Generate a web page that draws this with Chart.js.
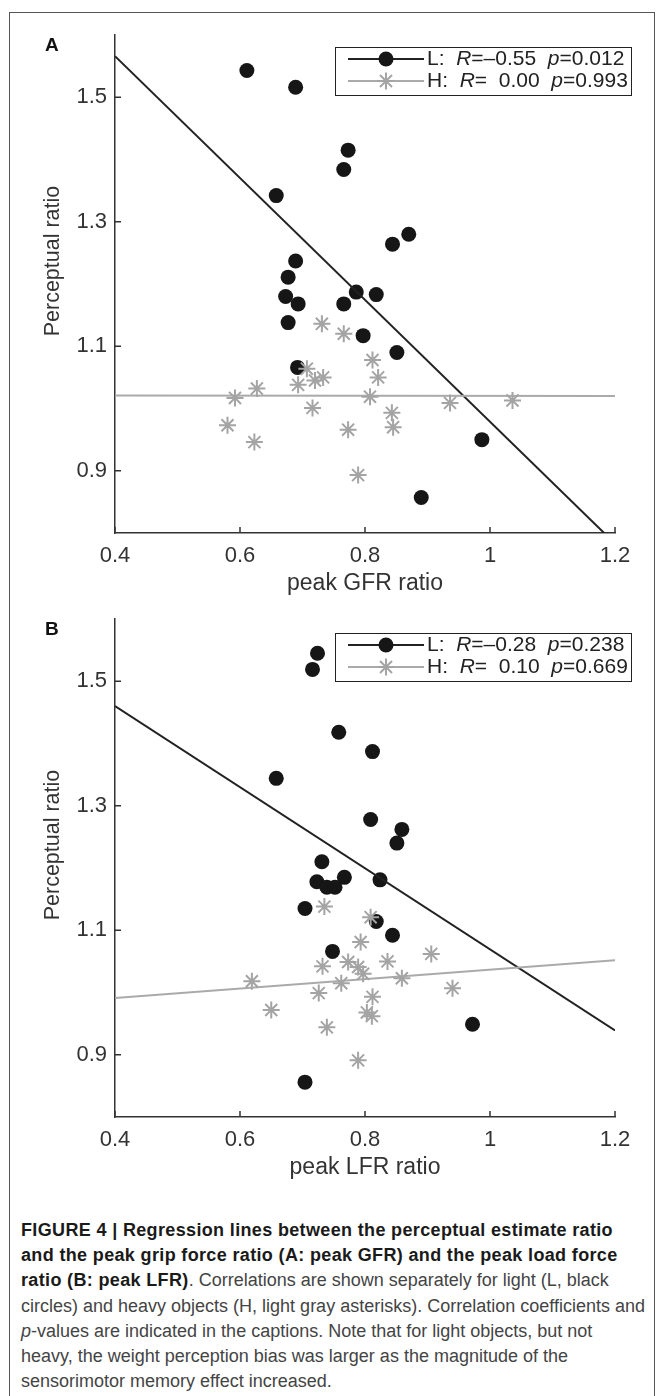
<!DOCTYPE html>
<html>
<head>
<meta charset="utf-8">
<script src="https://cdn.jsdelivr.net/npm/chart.js@4.4.1/dist/chart.umd.min.js"></script>
<style>
  html, body { margin: 0; padding: 0; background: #fff; }
  body { width: 662px; height: 1396px; position: relative; overflow: hidden;
         font-family: "Liberation Sans", Arial, sans-serif; }
  .frame { position: absolute; left: 9px; top: 12px; width: 646px; height: 1400px;
           border: 1px solid #555; box-sizing: border-box; }
  canvas { position: absolute; left: 0; }
  .panel { position: absolute; left: 45px; font: bold 19px "Liberation Sans", Arial, sans-serif; color: #111; }
  .ytitle { position: absolute; left: 52px; width: 0; height: 0; }
  .ytitle span { position: absolute; transform: translate(-50%, -50%) rotate(-90deg);
                 white-space: nowrap; font-size: 21.5px; color: #333; }
  .legend { position: absolute; left: 335px; width: 297px; height: 49px; border: 1.5px solid #222;
            box-sizing: border-box; background: #fff; font-size: 21px; color: #222; }
  .row { position: absolute; left: 0; height: 20px; width: 100%; }
  .row svg { position: absolute; left: 12px; top: 0; }
  .row .txt { position: absolute; left: 91px; top: -3px; white-space: pre; }
  .row i { font-style: italic; }
  .caption { position: absolute; left: 21px; top: 1218px; font-size: 18px; line-height: 25.2px;
             color: #444; white-space: nowrap; font-family: "Liberation Sans Narrow", "Liberation Sans", sans-serif; }
  .caption b { color: #1a1a1a; letter-spacing: 0.35px; }
</style>
</head>
<body>
<div class="frame"></div>

<canvas id="chartA" width="662" height="600" style="top:0"></canvas>
<canvas id="chartB" width="662" height="600" style="top:584px"></canvas>

<div class="panel" style="top:34px">A</div>
<div class="panel" style="top:618px">B</div>
<div class="ytitle" style="top:261px"><span>Perceptual ratio</span></div>
<div class="ytitle" style="top:845px"><span>Perceptual ratio</span></div>

<div class="legend" id="legA" style="top:47px"></div>
<div class="legend" id="legB" style="top:633px"></div>

<div class="caption">
<b>FIGURE 4 | Regression lines between the perceptual estimate ratio</b><br>
<b>and the peak grip force ratio (A: peak GFR) and the peak load force</b><br>
<b>ratio (B: peak LFR)</b>. Correlations are shown separately for light (L, black<br>
circles) and heavy objects (H, light gray asterisks). Correlation coefficients and<br>
<i>p</i>-values are indicated in the captions. Note that for light objects, but not<br>
heavy, the weight perception bias was larger as the magnitude of the<br>
sensorimotor memory effect increased.
</div>

<script>
// tick values / labels
const xTickVals = [0.4, 0.6, 0.8, 1, 1.2];
const xTickLabels = ['0.4', '0.6', '0.8', '1', '1.2'];
const yTickVals = [0.9, 1.1, 1.3, 1.5];
const yTickLabels = ['0.9', '1.1', '1.3', '1.5'];

// panel A: peak GFR ratio
const A_L_x = [0.611, 0.689, 0.773, 0.766, 0.658, 0.844, 0.870, 0.689, 0.677, 0.673, 0.693, 0.766, 0.786, 0.818, 0.677, 0.797, 0.851, 0.692, 0.987, 0.890];
const A_L_y = [1.543, 1.516, 1.415, 1.384, 1.342, 1.264, 1.280, 1.237, 1.211, 1.180, 1.168, 1.168, 1.187, 1.183, 1.138, 1.117, 1.090, 1.066, 0.950, 0.857];
const A_H_x = [0.731, 0.766, 0.812, 0.821, 0.707, 0.720, 0.733, 0.693, 0.627, 0.592, 0.808, 0.716, 0.936, 1.036, 0.843, 0.845, 0.580, 0.623, 0.773, 0.789];
const A_H_y = [1.136, 1.120, 1.078, 1.050, 1.064, 1.045, 1.050, 1.038, 1.032, 1.017, 1.019, 1.001, 1.009, 1.013, 0.993, 0.970, 0.973, 0.946, 0.966, 0.893];

// panel B: peak LFR ratio
const B_L_x = [0.724, 0.716, 0.758, 0.812, 0.658, 0.809, 0.859, 0.851, 0.731, 0.767, 0.723, 0.739, 0.752, 0.824, 0.704, 0.818, 0.844, 0.748, 0.972, 0.704];
const B_L_y = [1.545, 1.519, 1.418, 1.387, 1.344, 1.278, 1.262, 1.240, 1.210, 1.185, 1.178, 1.169, 1.169, 1.181, 1.135, 1.114, 1.092, 1.066, 0.949, 0.856];
const B_H_x = [0.735, 0.809, 0.793, 0.906, 0.732, 0.773, 0.789, 0.797, 0.836, 0.859, 0.762, 0.619, 0.726, 0.940, 0.812, 0.650, 0.803, 0.811, 0.739, 0.789];
const B_H_y = [1.138, 1.121, 1.081, 1.062, 1.042, 1.049, 1.041, 1.030, 1.050, 1.023, 1.015, 1.018, 0.999, 1.007, 0.993, 0.972, 0.968, 0.962, 0.944, 0.891];

// regression lines, read at x = 0.4 and x = 1.2
const fitX = [0.4, 1.2];
const A_fitL = [1.566, 0.783];
const A_fitH = [1.021, 1.020];
const B_fitL = [1.460, 0.939];
const B_fitH = [0.991, 1.052];

// legend text
const legA = [['L:', '\u20130.55', '0.012'], ['H:', '  0.00', '0.993']];
const legB = [['L:', '\u20130.28', '0.238'], ['H:', '  0.10', '0.669']];

const BLACK = '#161616';
const GRAY = '#a4a4a4';
const FONT = '"Liberation Sans", Arial, sans-serif';

function pts(xs, ys) {
  return xs.map((x, i) => ({ x: x, y: ys[i] }));
}

// MATLAB style ticks pointing into the plot
const inwardTicks = {
  id: 'inwardTicks',
  afterDraw(chart) {
    const { ctx, chartArea, scales } = chart;
    ctx.save();
    ctx.strokeStyle = '#333';
    ctx.lineWidth = 1.5;
    ctx.beginPath();
    xTickVals.forEach(v => {
      const px = scales.x.getPixelForValue(v);
      ctx.moveTo(px, chartArea.bottom);
      ctx.lineTo(px, chartArea.bottom - 6);
    });
    yTickVals.forEach(v => {
      const py = scales.y.getPixelForValue(v);
      ctx.moveTo(chartArea.left, py);
      ctx.lineTo(chartArea.left + 6, py);
    });
    ctx.stroke();
    ctx.restore();
  }
};

function makeChart(id, lx, ly, hx, hy, fitL, fitH, xTitle) {
  return new Chart(document.getElementById(id), {
    type: 'scatter',
    data: {
      datasets: [
        { data: pts(hx, hy), pointStyle: 'star', pointRadius: 8.5, borderColor: GRAY,
          backgroundColor: GRAY, pointBorderWidth: 2, order: 0 },
        { data: pts(fitX, fitH), showLine: true, pointRadius: 0, borderColor: '#aaa',
          borderWidth: 2, order: 1 },
        { data: pts(fitX, fitL), showLine: true, pointRadius: 0, borderColor: '#222',
          borderWidth: 2, order: 2 },
        { data: pts(lx, ly), pointStyle: 'circle', pointRadius: 7.5, backgroundColor: BLACK,
          borderColor: BLACK, pointBorderWidth: 0, order: 3 }
      ]
    },
    options: {
      responsive: false,
      animation: false,
      events: [],
      layout: { padding: { left: 0, top: 35, right: 47, bottom: 0 } },
      plugins: { legend: { display: false }, tooltip: { enabled: false } },
      scales: {
        x: {
          type: 'linear', min: 0.4, max: 1.2,
          afterBuildTicks: s => { s.ticks = xTickVals.map(v => ({ value: v })); },
          afterFit: s => { s.height = 67; },
          grid: { display: false, drawTicks: false },
          border: { display: true, color: '#333', width: 1.5 },
          ticks: { autoSkip: false, maxRotation: 0, padding: 10, color: '#333',
                   font: { family: FONT, size: 22 },
                   callback: (v, i) => xTickLabels[i] },
          title: { display: true, text: xTitle, color: '#333', padding: { top: 0, bottom: 3 },
                   font: { family: FONT, size: 23 } }
        },
        y: {
          type: 'linear', min: 0.8, max: 1.6,
          afterBuildTicks: s => { s.ticks = yTickVals.map(v => ({ value: v })); },
          afterFit: s => { s.width = 115; },
          grid: { display: false, drawTicks: false },
          border: { display: true, color: '#333', width: 1.5 },
          ticks: { autoSkip: false, padding: 8, color: '#333',
                   font: { family: FONT, size: 22 },
                   callback: (v, i) => yTickLabels[i] }
        }
      }
    },
    plugins: [inwardTicks]
  });
}

function buildLegend(id, rows) {
  const el = document.getElementById(id);
  const marks = [
    '<svg width="78" height="20"><line x1="0" y1="10" x2="76" y2="10" stroke="#222" stroke-width="2"/>' +
      '<circle cx="38" cy="10" r="7.5" fill="' + BLACK + '"/></svg>',
    '<svg width="78" height="20"><line x1="0" y1="10" x2="76" y2="10" stroke="#aaa" stroke-width="2"/>' +
      '<g stroke="' + GRAY + '" stroke-width="2"><line x1="38" y1="1.5" x2="38" y2="18.5"/><line x1="29.5" y1="10" x2="46.5" y2="10"/>' +
      '<line x1="32" y1="4" x2="44" y2="16"/><line x1="32" y1="16" x2="44" y2="4"/></g></svg>'
  ];
  el.innerHTML = rows.map((r, i) =>
    '<div class="row" style="top:' + (1 + i * 22) + 'px">' + marks[i] +
    '<span class="txt">' + r[0] + '  <i>R</i>=' + r[1] + '  <i>p</i>=' + r[2] + '</span></div>'
  ).join('');
}

makeChart('chartA', A_L_x, A_L_y, A_H_x, A_H_y, A_fitL, A_fitH, 'peak GFR ratio');
makeChart('chartB', B_L_x, B_L_y, B_H_x, B_H_y, B_fitL, B_fitH, 'peak LFR ratio');
buildLegend('legA', legA);
buildLegend('legB', legB);
</script>
</body>
</html>
